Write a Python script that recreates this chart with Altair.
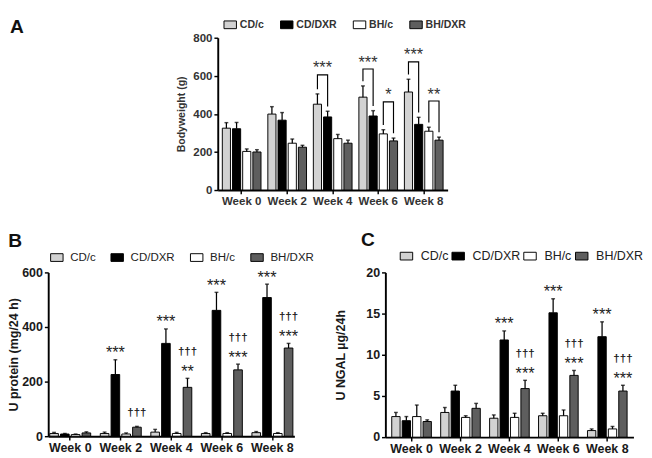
import altair as alt
import pandas as pd

FONT = "Liberation Sans"
WEEKS = ["Week 0", "Week 2", "Week 4", "Week 6", "Week 8"]
GROUPS = ["CD/c", "CD/DXR", "BH/c", "BH/DXR"]
FILLS = ["#d2d2d2", "#000000", "#ffffff", "#5e5e5e"]

# Panel A - body weight (g): mean and mean+SEM
bw_cdc = [325, 399, 451, 488, 515]
bw_cdc_hi = [354, 438, 505, 547, 582]
bw_cddxr = [322, 367, 384, 389, 345]
bw_cddxr_hi = [355, 407, 414, 417, 382]
bw_bhc = [203, 246, 270, 295, 309]
bw_bhc_hi = [216, 268, 292, 317, 330]
bw_bhdxr = [200, 225, 246, 258, 262]
bw_bhdxr_hi = [212, 235, 262, 273, 278]

# Panel B - urinary protein (mg/24 h)
up_cdc = [10, 10, 15, 10, 13]
up_cdc_hi = [14, 15, 25, 13, 17]
up_cddxr = [8, 226, 340, 461, 508]
up_cddxr_hi = [10, 280, 393, 527, 557]
up_bhc = [6, 8, 10, 10, 10]
up_bhc_hi = [8, 12, 14, 13, 13]
up_bhdxr = [12, 33, 179, 243, 323]
up_bhdxr_hi = [16, 36, 212, 264, 340]

# Panel C - urinary NGAL (ug/24h)
ng_cdc = [2.5, 3.0, 2.3, 2.6, 0.8]
ng_cdc_hi = [3.0, 3.6, 2.7, 2.9, 1.0]
ng_cddxr = [2.0, 5.6, 11.8, 15.1, 12.2]
ng_cddxr_hi = [2.5, 6.3, 12.9, 16.8, 14.0]
ng_bhc = [2.5, 2.4, 2.4, 2.6, 1.0]
ng_bhc_hi = [3.9, 2.6, 2.9, 3.3, 1.3]
ng_bhdxr = [1.9, 3.5, 5.9, 7.5, 5.6]
ng_bhdxr_hi = [2.1, 4.1, 6.9, 8.1, 6.3]

# Panel A significance brackets
br_week = ["Week 4", "Week 6", "Week 6", "Week 8", "Week 8"]
br_left = ["CD/c", "CD/c", "BH/c", "CD/c", "BH/c"]
br_right = ["CD/DXR", "CD/DXR", "BH/DXR", "CD/DXR", "BH/DXR"]
br_top = [605, 636, 463, 673, 468]
br_label = ["***", "***", "*", "***", "**"]

# Panel B / C annotations: (week, group, label, level)
DAG = "\u2020\u2020\u2020"
ann_B = [
    ("Week 2", "CD/DXR", "***", 0), ("Week 2", "BH/DXR", DAG, 0),
    ("Week 4", "CD/DXR", "***", 0), ("Week 4", "BH/DXR", "**", 0), ("Week 4", "BH/DXR", DAG, 1),
    ("Week 6", "CD/DXR", "***", 0), ("Week 6", "BH/DXR", "***", 0), ("Week 6", "BH/DXR", DAG, 1),
    ("Week 8", "CD/DXR", "***", 0), ("Week 8", "BH/DXR", "***", 0), ("Week 8", "BH/DXR", DAG, 1),
]
ann_C = [
    ("Week 4", "CD/DXR", "***", 0), ("Week 4", "BH/DXR", "***", 0), ("Week 4", "BH/DXR", DAG, 1),
    ("Week 6", "CD/DXR", "***", 0), ("Week 6", "BH/DXR", "***", 0), ("Week 6", "BH/DXR", DAG, 1),
    ("Week 8", "CD/DXR", "***", 0), ("Week 8", "BH/DXR", "***", 0), ("Week 8", "BH/DXR", DAG, 1),
]


def long_df(series):
    rows = []
    for g, (vals, his) in zip(GROUPS, series):
        for w, v, h in zip(WEEKS, vals, his):
            rows.append({"week": w, "group": g, "value": v, "hi": h})
    return pd.DataFrame(rows)


def ann_df(df, ann):
    a = pd.DataFrame(ann, columns=["week", "group", "label", "level"])
    a = a.merge(df[["week", "group", "hi"]], on=["week", "group"])
    a["kind"] = [
        ("dag" if "\u2020" in l else "star") + str(lv) for l, lv in zip(a["label"], a["level"])
    ]
    return a


RECT = "M-1,-0.62H1V0.62H-1Z"


def make_panel(df, ymax, ystep, ytitle, width, height, pi, po, lab_size, lab_color,
               title_size, title_pad, legend, ann=None):
    x_axis = alt.Axis(labelAngle=0, labelFont=FONT, labelFontSize=lab_size, labelFontWeight="bold",
                      labelColor=lab_color, labelPadding=2, tickSize=4, tickWidth=1.5,
                      tickColor="black", domainColor="black", domainWidth=2, grid=False, title=None)
    x = alt.X("week:N", sort=WEEKS, scale=alt.Scale(paddingInner=pi, paddingOuter=po), axis=x_axis)
    xo = alt.XOffset("group:N", sort=GROUPS, scale=alt.Scale(paddingInner=0.2, paddingOuter=0))
    y_axis = alt.Axis(values=list(range(0, ymax + 1, ystep)), labelFont=FONT, labelFontSize=lab_size,
                      labelFontWeight="bold", labelColor=lab_color, labelPadding=2, tickSize=4,
                      tickWidth=1.5, tickColor="black", domainColor="black", domainWidth=2,
                      grid=False, title=ytitle, titleFont=FONT, titleFontSize=title_size,
                      titleFontWeight="bold", titleColor=lab_color, titlePadding=title_pad)
    ys = alt.Scale(domain=[0, ymax], nice=False, zero=True)

    def Y(f):
        return alt.Y(f, scale=ys, axis=y_axis)

    base = alt.Chart(df)
    bars = base.mark_bar(stroke="black", strokeWidth=1).encode(
        x=x, xOffset=xo, y=Y("value:Q"),
        fill=alt.Fill("group:N", sort=GROUPS, scale=alt.Scale(domain=GROUPS, range=FILLS), legend=legend))
    stems = base.mark_rule(color="black", strokeWidth=1.3).encode(
        x=x, xOffset=xo, y=Y("value:Q"), y2="hi:Q")
    caps = base.mark_tick(color="black", thickness=1.5, size=4).encode(
        x=x, xOffset=xo, y=Y("hi:Q"))
    layers = [bars, stems, caps]
    if ann is not None:
        a = alt.Chart(ann)
        for kind, fs, dy, fw in [("star0", 17, -1.5, "normal"), ("dag0", 12, -11, "bold"),
                                 ("dag1", 12, -24, "bold")]:
            layers.append(
                a.transform_filter(alt.datum.kind == kind).mark_text(
                    font=FONT, fontSize=fs, dy=dy, fontWeight=fw, baseline="alphabetic",
                    color="#222").encode(
                    x=x, xOffset=xo, y=Y("hi:Q"), text="label:N"))
    return layers, x, xo, Y


def letter(t, dx=0, offset=0):
    return alt.TitleParams(t, anchor="start", frame="bounds", font=FONT, fontSize=20, fontWeight="bold",
                           color="#111", offset=offset, dx=dx)


# ---------- Panel A ----------
dfA = long_df([(bw_cdc, bw_cdc_hi), (bw_cddxr, bw_cddxr_hi), (bw_bhc, bw_bhc_hi), (bw_bhdxr, bw_bhdxr_hi)])
legA = alt.Legend(title=None, orient="none", legendX=6, legendY=-21, direction="horizontal", columns=4,
                  symbolType=RECT, symbolSize=169, symbolStrokeColor="black", symbolStrokeWidth=1,
                  labelFont=FONT, labelFontSize=11, labelFontWeight="bold", labelColor="#333",
                  labelOffset=3, columnPadding=14, padding=0)
layA, xA, xoA, YA = make_panel(dfA, 800, 200, "Bodyweight (g)", 240, 159, 0.15, 0.1, 12, "#333",
                               11, 7, legA)

hiA = dfA.set_index(["week", "group"])["hi"]
br_rows = []
for i, (w, gl, gr, top) in enumerate(zip(br_week, br_left, br_right, br_top)):
    br_rows += [
        {"bid": i, "o": 0, "week": w, "group": gl, "yv": hiA[(w, gl)] + 25},
        {"bid": i, "o": 1, "week": w, "group": gl, "yv": top},
        {"bid": i, "o": 2, "week": w, "group": gr, "yv": top},
        {"bid": i, "o": 3, "week": w, "group": gr, "yv": hiA[(w, gr)] + 25},
    ]
brdf = pd.DataFrame(br_rows)
brlab = pd.DataFrame({"week": br_week, "group": br_left, "yv": br_top, "label": br_label})
brackets = alt.Chart(brdf).mark_line(color="black", strokeWidth=1.2).encode(
    x=xA, xOffset=xoA, y=YA("yv:Q"), order="o:Q", detail="bid:N")
brtext = alt.Chart(brlab).mark_text(font=FONT, fontSize=17, dy=-1.5, dx=5.3, baseline="alphabetic",
                                    color="#333").encode(x=xA, xOffset=xoA, y=YA("yv:Q"), text="label:N")
chA = alt.layer(*layA, brackets, brtext).properties(width=240, height=159)

# panel letter "A" drawn as a text mark in a narrow spacer view to the left of panel A
letterA = pd.DataFrame({"t": ["A"], "px": [0], "py": [1]})
spacer = alt.Chart(letterA).mark_text(font=FONT, fontSize=20, fontWeight="bold", color="#111",
                                      align="left", baseline="top", dx=-40, dy=-21).encode(
    x=alt.X("px:Q", axis=None, scale=alt.Scale(domain=[0, 1])),
    y=alt.Y("py:Q", axis=None, scale=alt.Scale(domain=[0, 1])),
    text="t:N").properties(width=132, height=20)

row1 = alt.hconcat(spacer, chA, spacing=0).resolve_scale(fill="independent", xOffset="independent")

# ---------- Panel B ----------
dfB = long_df([(up_cdc, up_cdc_hi), (up_cddxr, up_cddxr_hi), (up_bhc, up_bhc_hi), (up_bhdxr, up_bhdxr_hi)])
legB = alt.Legend(title=None, orient="none", legendX=2, legendY=-23, direction="horizontal", columns=4,
                  symbolType=RECT, symbolSize=169, symbolStrokeColor="black", symbolStrokeWidth=1,
                  labelFont=FONT, labelFontSize=12, labelColor="#222", labelOffset=7,
                  columnPadding=13, padding=0)
layB, _, _, _ = make_panel(dfB, 600, 200, "U protein (mg/24 h)", 257, 171, 0.19, 0.03, 13, "#1a1a1a",
                           13, 1, legB, ann=ann_df(dfB, ann_B))
chB = alt.layer(*layB).properties(width=257, height=171, title=letter("B"))

# ---------- Panel C ----------
dfC = long_df([(ng_cdc, ng_cdc_hi), (ng_cddxr, ng_cddxr_hi), (ng_bhc, ng_bhc_hi), (ng_bhdxr, ng_bhdxr_hi)])
legC = alt.Legend(title=None, orient="none", legendX=15, legendY=-24, direction="horizontal", columns=4,
                  symbolType=RECT, symbolSize=169, symbolStrokeColor="black", symbolStrokeWidth=1,
                  labelFont=FONT, labelFontSize=13, labelColor="#222", labelOffset=8,
                  columnPadding=1, padding=0)
layC, _, _, _ = make_panel(dfC, 20, 5, "U NGAL \u00b5g/24h", 259, 172, 0.19, 0.13, 13, "#1a1a1a",
                           13, 19, legC, ann=ann_df(dfC, ann_C))
chC = alt.layer(*layC).properties(width=259, height=172, title=letter("C", dx=27))

row2 = alt.hconcat(chB, chC, spacing=21).resolve_scale(fill="independent", xOffset="independent")

chart = alt.vconcat(row1, row2, spacing=25).resolve_scale(
    fill="independent", xOffset="independent").properties(padding=0).configure_view(stroke=None)

chart.save("out.html", embed_options={"renderer": "svg", "actions": False})
